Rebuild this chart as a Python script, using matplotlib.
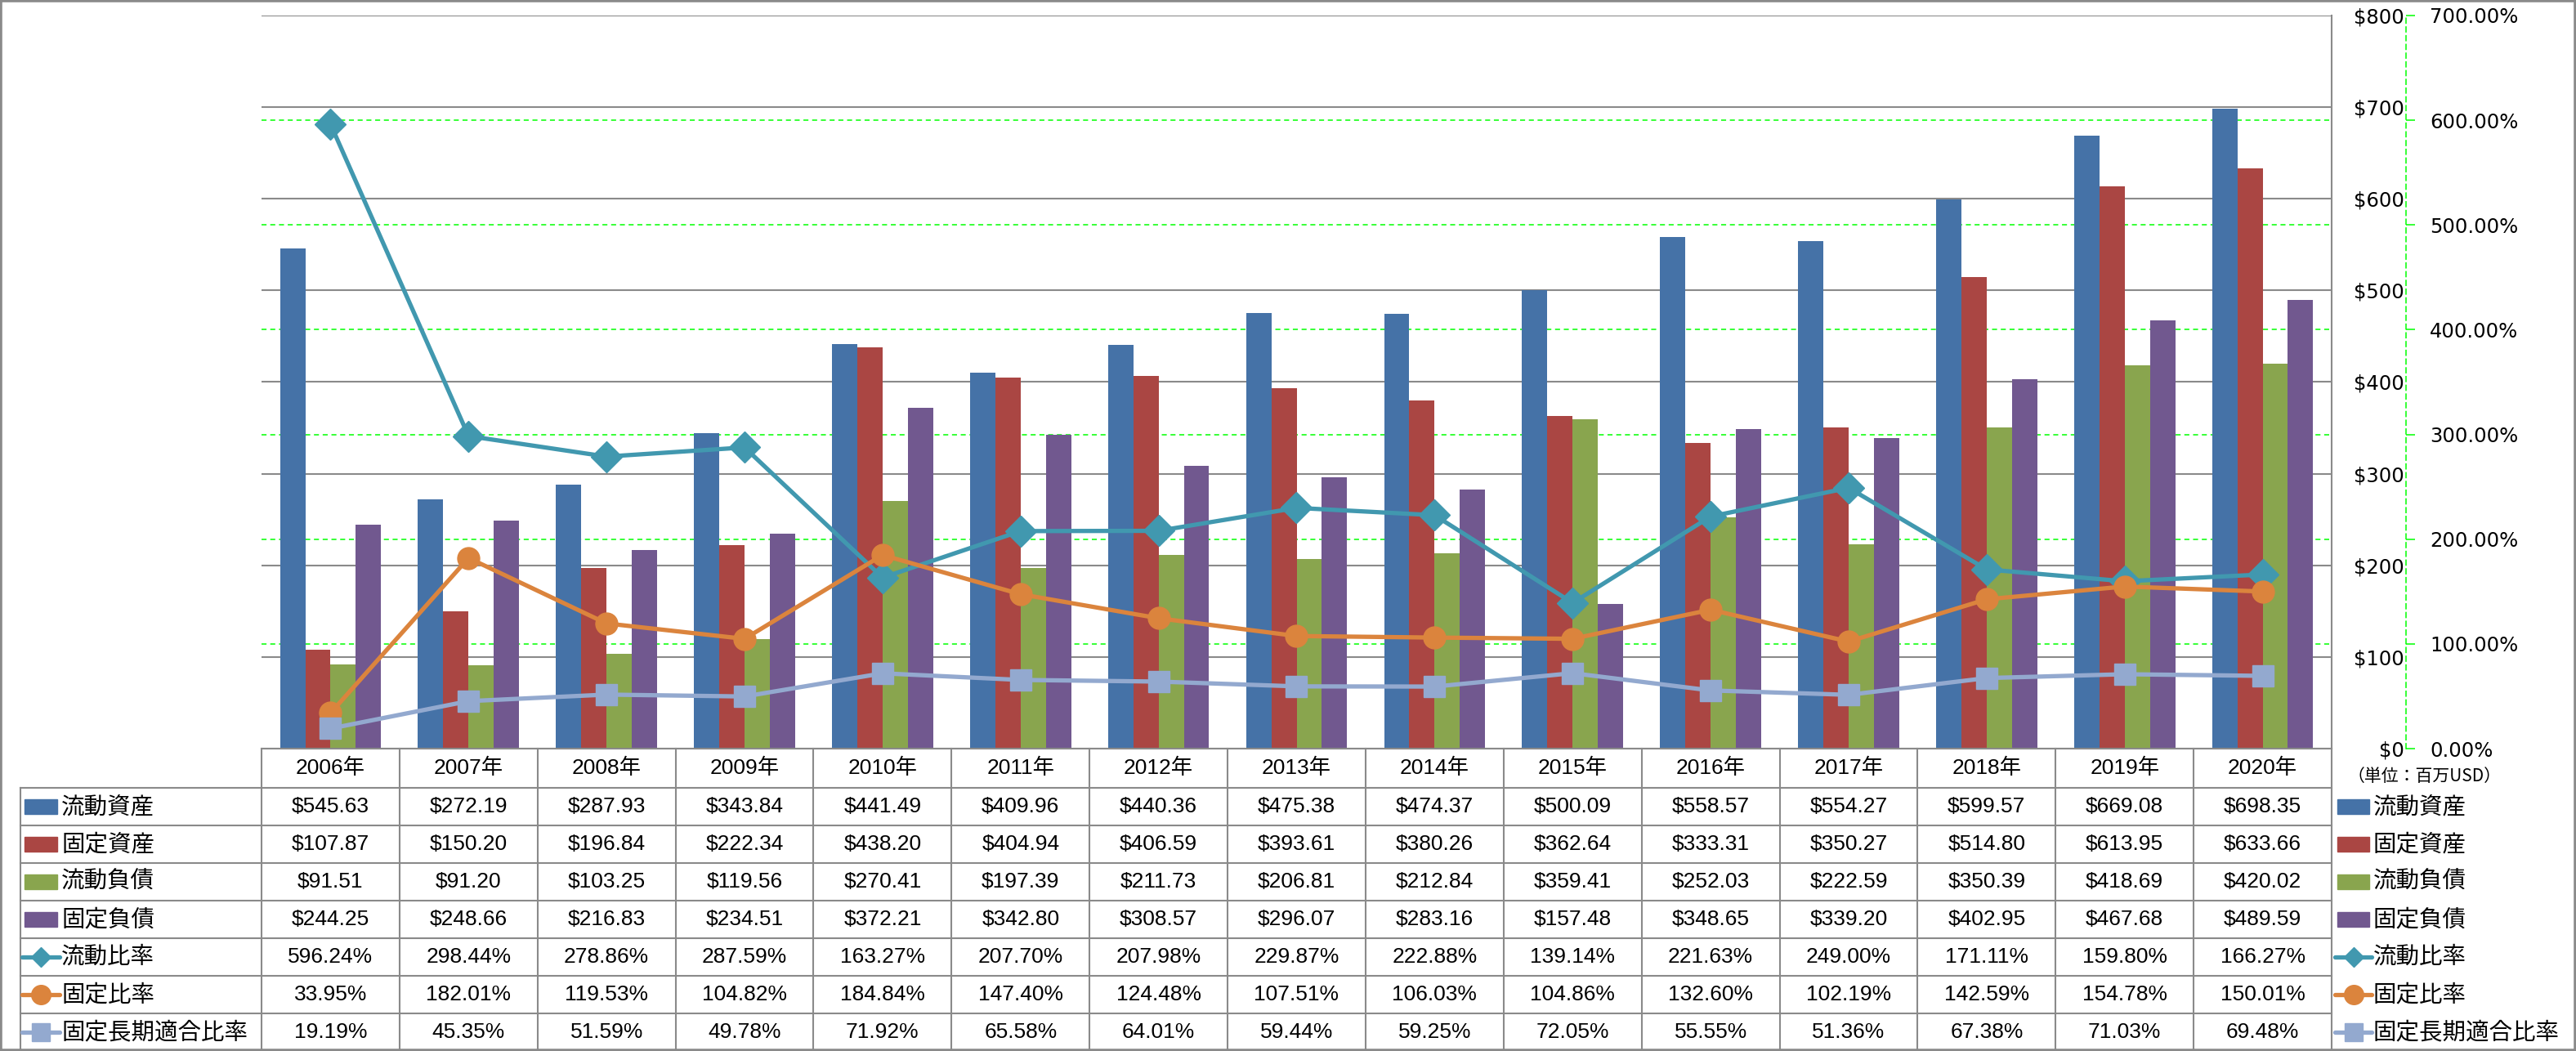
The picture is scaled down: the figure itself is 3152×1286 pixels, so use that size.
import numpy as np
import matplotlib
matplotlib.use('Agg')
import matplotlib.pyplot as plt
from matplotlib import font_manager
from matplotlib.lines import Line2D
from matplotlib.patches import Rectangle
from matplotlib.transforms import blended_transform_factory

# data (百万USD / %)
years = ['2006年', '2007年', '2008年', '2009年', '2010年', '2011年', '2012年', '2013年',
         '2014年', '2015年', '2016年', '2017年', '2018年', '2019年', '2020年']
current_assets = [545.63, 272.19, 287.93, 343.84, 441.49, 409.96, 440.36, 475.38,
                  474.37, 500.09, 558.57, 554.27, 599.57, 669.08, 698.35]
fixed_assets = [107.87, 150.20, 196.84, 222.34, 438.20, 404.94, 406.59, 393.61,
                380.26, 362.64, 333.31, 350.27, 514.80, 613.95, 633.66]
current_liab = [91.51, 91.20, 103.25, 119.56, 270.41, 197.39, 211.73, 206.81,
                212.84, 359.41, 252.03, 222.59, 350.39, 418.69, 420.02]
fixed_liab = [244.25, 248.66, 216.83, 234.51, 372.21, 342.80, 308.57, 296.07,
              283.16, 157.48, 348.65, 339.20, 402.95, 467.68, 489.59]
current_ratio = [596.24, 298.44, 278.86, 287.59, 163.27, 207.70, 207.98, 229.87,
                 222.88, 139.14, 221.63, 249.00, 171.11, 159.80, 166.27]
fixed_ratio = [33.95, 182.01, 119.53, 104.82, 184.84, 147.40, 124.48, 107.51,
               106.03, 104.86, 132.60, 102.19, 142.59, 154.78, 150.01]
fixed_lt_ratio = [19.19, 45.35, 51.59, 49.78, 71.92, 65.58, 64.01, 59.44,
                  59.25, 72.05, 55.55, 51.36, 67.38, 71.03, 69.48]

usd_ticks = list(range(0, 801, 100))
pct_ticks = list(range(0, 701, 100))
unit_label = '（単位：百万USD）'

bar_series = [('流動資産', current_assets, '#4572A7'),
              ('固定資産', fixed_assets, '#AA4643'),
              ('流動負債', current_liab, '#89A54E'),
              ('固定負債', fixed_liab, '#71588F')]
line_series = [('流動比率', current_ratio, '#4198AF', 'D'),
               ('固定比率', fixed_ratio, '#DB843D', 'o'),
               ('固定長期適合比率', fixed_lt_ratio, '#93A9CF', 's')]

available = {f.name for f in font_manager.fontManager.ttflist}
if 'Liberation Sans Narrow' in available:
    num_font, num_size = 'Liberation Sans Narrow', 22
else:
    num_font, num_size = 'Liberation Sans', 19
cjk = 'Noto Sans CJK JP'
gray = '#8A8A8A'
lime = '#00FF00'

W, H = 3152, 1286
DPI = 100
fig = plt.figure(figsize=(W / DPI, H / DPI), dpi=DPI)


def fx(px):
    return px / W


def fy(px):
    return 1 - px / H


plot_l, plot_r, plot_t, plot_b = 320, 2853, 19, 916
ax = fig.add_axes([fx(plot_l), fy(plot_b), fx(plot_r - plot_l), (plot_b - plot_t) / H])
ax2 = ax.twinx()

x = np.arange(len(years))
bar_w = 0.183
for i, (name, vals, col) in enumerate(bar_series):
    ax.bar(x + (i - 1.5) * bar_w, vals, bar_w, color=col, zorder=2)

for name, vals, col, mk in line_series:
    ax2.plot(x, vals, color=col, lw=3.8, marker=mk, markersize=19.4,
             markeredgecolor=col, solid_joinstyle='round', solid_capstyle='round')

ax.set_xlim(-0.5, len(years) - 0.5)
ax.set_xticks([])
ax.set_ylim(0, 800)
ax.set_yticks(usd_ticks)
ax.set_yticklabels(['$%d' % v for v in usd_ticks])
ax.yaxis.tick_right()
ax.tick_params(axis='y', length=0, pad=64, labelsize=17.5)
for t in ax.yaxis.get_major_ticks():
    t.label2.set_horizontalalignment('right')
ax.yaxis.grid(True, color=gray, lw=1.5)
ax.set_axisbelow(True)
for s in ['top', 'left']:
    ax.spines[s].set_visible(False)
for s in ['bottom', 'right']:
    ax.spines[s].set_color(gray)
    ax.spines[s].set_linewidth(1.5)

ax2.set_ylim(0, 700)
ax2.set_yticks(pct_ticks)
ax2.set_yticklabels(['%.2f%%' % v for v in pct_ticks])
ax2.tick_params(axis='y', length=8, width=1.1, color=lime, pad=13, labelsize=17.5)
for s in ['top', 'left', 'bottom']:
    ax2.spines[s].set_visible(False)
ax2.spines['right'].set_position(('axes', (2944 - plot_l) / (plot_r - plot_l)))
ax2.spines['right'].set_color(lime)
ax2.spines['right'].set_linestyle((0, (4, 3)))
ax2.spines['right'].set_linewidth(1.1)

# percent gridlines behind the bars (and under the gray ones)
pct_trans = blended_transform_factory(ax.transAxes, ax2.transData)
for p in pct_ticks[1:-1]:
    ax.add_artist(Line2D([0, 1], [p, p], transform=pct_trans, color=lime, lw=1.1,
                         ls=(0, (4, 3)), zorder=0.4))

# data table under the plot
head_bot = 964
row_h = 46
n_rows = len(bar_series) + len(line_series)
xt = blended_transform_factory(ax.transData, fig.transFigure)
for i in range(len(years) + 1):
    fig.add_artist(Line2D([i - 0.5, i - 0.5], [fy(plot_b), fy(H)], transform=xt,
                          color=gray, lw=1.5))
fig.add_artist(Line2D([fx(25), fx(25)], [fy(head_bot), fy(H)], color=gray, lw=1.5))
for r in range(n_rows):
    yy = fy(head_bot + r * row_h)
    fig.add_artist(Line2D([fx(25), fx(plot_r)], [yy, yy], color=gray, lw=1.5))

for i, yr in enumerate(years):
    fig.text(i, fy((plot_b + head_bot) / 2), yr, transform=xt, ha='center', va='center',
             family=[num_font, cjk], fontsize=num_size)

rows = [(n, v, '$%.2f', c, None) for n, v, c in bar_series] + \
       [(n, v, '%.2f%%', c, m) for n, v, c, m in line_series]
for r, (name, vals, fmt, col, mk) in enumerate(rows):
    yc = head_bot + r * row_h + row_h / 2
    for i, v in enumerate(vals):
        fig.text(i, fy(yc), fmt % v, transform=xt, ha='center', va='center',
                 family=[num_font, cjk], fontsize=num_size)
    # legend keys: inside the table and on the right
    for key_l, key_r, txt_x in [(30, 70, 75), (2860, 2899, 2904)]:
        if mk is None:
            fig.add_artist(Rectangle((fx(key_l), fy(yc + 9)), fx(key_r - key_l), 18 / H,
                                     color=col))
        else:
            fig.add_artist(Line2D([fx(key_l - 3), fx(key_r + 3)], [fy(yc), fy(yc)],
                                  color=col, lw=3.8, solid_capstyle='round'))
            ms = {'D': 12.2, 'o': 17, 's': 16.5}[mk]
            fig.add_artist(Line2D([fx((key_l + key_r) / 2)], [fy(yc)], marker=mk,
                                  markersize=ms, color=col, markeredgecolor=col))
        fig.text(fx(txt_x), fy(yc), name, ha='left', va='center', family=cjk,
                 fontsize=20.5)

fig.text(fx(2967), fy(950), unit_label, ha='center', va='center', family=cjk, fontsize=15)

fig.add_artist(Rectangle((0, 0), 1, 1, transform=fig.transFigure, fill=False,
                         edgecolor=gray, lw=4))

fig.savefig('out.png', dpi=DPI, facecolor='white')
